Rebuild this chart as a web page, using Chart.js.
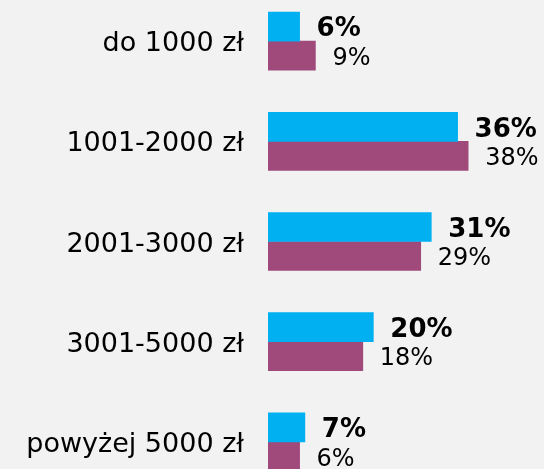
<!DOCTYPE html>
<html>
<head>
<meta charset="utf-8">
<script src="https://cdn.jsdelivr.net/npm/chart.js@4/dist/chart.umd.min.js"></script>
<style>
  html, body { margin: 0; padding: 0; background: #f2f2f2; overflow: hidden; }
  #wrap { position: absolute; left: 0; top: -9px; width: 544px; height: 501px; }
</style>
</head>
<body>
<div id="wrap"><canvas id="c" width="544" height="501"></canvas></div>
<script>
// kategorie i wartości (%)
const categories = ['do 1000 zł', '1001-2000 zł', '2001-3000 zł', '3001-5000 zł', 'powyżej 5000 zł'];
const seriesA = [6, 36, 31, 20, 7];
const seriesB = [9, 38, 29, 18, 6];

const FONT = 'DejaVu Sans, Verdana, sans-serif';

// etykiety wartości przy końcu słupka
const valueLabels = {
  id: 'valueLabels',
  afterDatasetsDraw(chart) {
    const ctx = chart.ctx;
    ctx.save();
    ctx.fillStyle = '#000';
    ctx.textAlign = 'left';
    ctx.textBaseline = 'middle';
    chart.data.datasets.forEach((ds, di) => {
      const meta = chart.getDatasetMeta(di);
      ctx.font = (di === 0 ? 'bold 26px ' : '24px ') + FONT;
      meta.data.forEach((el, i) => {
        ctx.fillText(ds.data[i] + '%', el.x + 17, el.y + 3);
      });
    });
    ctx.restore();
  }
};

new Chart(document.getElementById('c'), {
  type: 'bar',
  data: {
    labels: categories,
    datasets: [
      { data: seriesA, backgroundColor: '#00b0f0', barThickness: 29 },
      { data: seriesB, backgroundColor: '#a04a7c', barThickness: 29 },
    ]
  },
  options: {
    indexAxis: 'y',
    responsive: false,
    animation: false,
    layout: { padding: 0 },
    plugins: { legend: { display: false }, tooltip: { enabled: false } },
    scales: {
      x: { display: false, min: 0, max: 52.4 },
      y: {
        grid: { display: false, drawTicks: false },
        border: { display: false },
        ticks: { color: '#000', font: { family: FONT, size: 27 }, padding: 24, labelOffset: 3 },
        afterFit: s => { s.width = 268; s.paddingTop = 0; s.paddingBottom = 0; },
      },
    },
  },
  plugins: [valueLabels],
});
</script>
</body>
</html>
